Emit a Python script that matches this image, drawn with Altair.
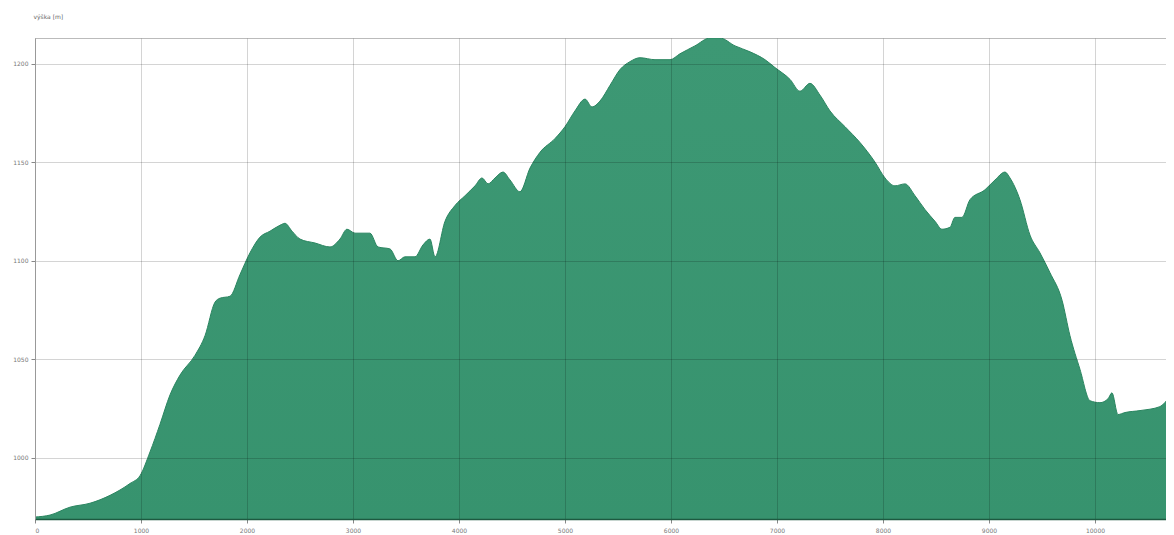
import altair as alt
import pandas as pd

dist = [0, 142, 330, 519, 708, 896, 991, 1085, 1179, 1274, 1368, 1509, 1604, 1698, 1745, 1840,
        1934, 2028, 2123, 2217, 2311, 2358, 2425, 2500, 2642, 2783, 2877, 2943, 3019, 3160, 3236,
        3349, 3425, 3491, 3585, 3660, 3726, 3774, 3868, 3962, 4057, 4151, 4217, 4274, 4340, 4415,
        4481, 4575, 4670, 4764, 4906, 5000, 5094, 5189, 5255, 5330, 5425, 5519, 5613, 5708, 5849,
        5991, 6085, 6226, 6368, 6462, 6604, 6745, 6887, 6981, 7123, 7217, 7311, 7406, 7500, 7642,
        7783, 7925, 8019, 8113, 8208, 8302, 8396, 8491, 8557, 8632, 8679, 8745, 8821, 8962, 9057,
        9151, 9198, 9292, 9387, 9481, 9575, 9689, 9764, 9858, 9953, 10047, 10123, 10160, 10217,
        10283, 10425, 10613, 10708, 10745]
elev = [970, 971, 975, 977, 981, 987, 991, 1003, 1017, 1032, 1042, 1052, 1062, 1079, 1081, 1082,
        1093, 1104, 1112, 1115, 1118, 1119, 1115, 1111, 1109, 1107, 1111, 1116, 1114, 1114, 1107,
        1106, 1100, 1102, 1102, 1108, 1111, 1102, 1120, 1128, 1133, 1138, 1142, 1139, 1142, 1145,
        1141, 1135, 1147, 1155, 1162, 1168, 1176, 1182, 1178, 1181, 1189, 1197, 1201, 1203, 1202,
        1202, 1205, 1209, 1213, 1213, 1209, 1206, 1202, 1198, 1192, 1186, 1190, 1184, 1176, 1168,
        1160, 1150, 1142, 1138, 1139, 1133, 1126, 1120, 1116, 1117, 1122, 1122, 1131, 1136, 1141,
        1145, 1142, 1131, 1113, 1104, 1094, 1080, 1062, 1045, 1029, 1028, 1030, 1033, 1022,
        1023, 1024, 1026, 1031, 1033]

x_ticks = [0, 1000, 2000, 3000, 4000, 5000, 6000, 7000, 8000, 9000, 10000]
y_ticks = [1000, 1050, 1100, 1150, 1200]

df = pd.DataFrame({"dist": dist, "elev": elev})

area = alt.Chart(df).mark_area(
    clip=True,
    opacity=1,
    interpolate="monotone",
    line={"color": "#2a8560", "strokeWidth": 1},
    color=alt.Gradient(
        gradient="linear",
        stops=[alt.GradientStop(color="#3d9874", offset=0),
               alt.GradientStop(color="#1f7f57", offset=1)],
        x1=1, x2=1, y1=0, y2=1,
    ),
).encode(
    x=alt.X("dist:Q", scale=alt.Scale(domain=[0, 10670], nice=False, zero=False),
            axis=alt.Axis(values=x_ticks, format="d", title=None, labelFontSize=6, labelColor="#777",
                          gridColor="#000000", gridOpacity=0.17, gridWidth=1, tickColor="#888", tickSize=4,
                          domainColor="#1d5a40", domainWidth=1.5, labelPadding=4, zindex=1)),
    y=alt.Y("elev:Q", scale=alt.Scale(domain=[969, 1213], nice=False, zero=False),
            axis=alt.Axis(values=y_ticks, format="d", title="výška [m]", titleAngle=0, titleAlign="left",
                          titleBaseline="middle", titleX=-2, titleY=-22, titleFontSize=6,
                          titleFontWeight="normal", titleColor="#666666",
                          labelFontSize=6, labelColor="#777", gridColor="#000000", gridOpacity=0.17,
                          gridWidth=1, tickColor="#888", tickSize=4, domainColor="#999",
                          labelPadding=3, zindex=1)),
)

chart = area.properties(
    width=1131, height=481,
    autosize="none",
    padding={"left": 27, "top": 30, "right": 0, "bottom": 16},
).configure_view(stroke="#bbbbbb").configure_axis(labelFont="DejaVu Sans", titleFont="DejaVu Sans")

chart.save("out.html", embed_options={"renderer": "svg", "actions": False})
